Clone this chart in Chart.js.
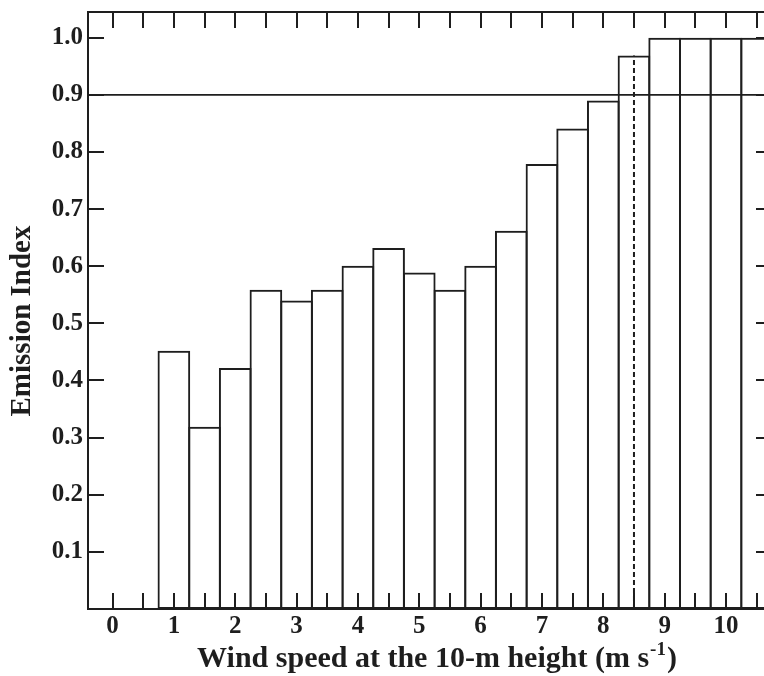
<!DOCTYPE html>
<html>
<head>
<meta charset="utf-8">
<script src="https://cdn.jsdelivr.net/npm/chart.js@4/dist/chart.umd.min.js"></script>
<style>
  html, body { margin: 0; padding: 0; background: #ffffff; }
  #wrap { width: 764px; height: 676px; overflow: hidden; position: relative; background: #ffffff; }
  canvas { display: block; }
</style>
</head>
<body>
<div id="wrap"><canvas id="c" width="780" height="676"></canvas></div>
<script>
// ---- data ----
const binCenters = [1, 1.5, 2, 2.5, 3, 3.5, 4, 4.5, 5, 5.5, 6, 6.5, 7, 7.5, 8, 8.5, 9, 9.5, 10, 10.5];
const emissionIndex = [0.452, 0.319, 0.422, 0.559, 0.540, 0.559, 0.601, 0.632, 0.589, 0.559,
                       0.601, 0.662, 0.779, 0.841, 0.890, 0.969, 1.0, 1.0, 1.0, 1.0];
const thresholdValue = 0.9;
const thresholdSpan = [-0.4, 10.75];
const cutoffSpeed = 8.5;
const cutoffTop = 0.969;
const xTickLabels = [0, 1, 2, 3, 4, 5, 6, 7, 8, 9, 10];
const xTickMarks = [0, 0.5, 1, 1.5, 2, 2.5, 3, 3.5, 4, 4.5, 5, 5.5, 6, 6.5, 7, 7.5, 8, 8.5, 9, 9.5, 10, 10.5];
const yTickLabels = [0.1, 0.2, 0.3, 0.4, 0.5, 0.6, 0.7, 0.8, 0.9, 1.0];
const xTitleMain = 'Wind speed at the 10-m height (m s';
const xTitleSup = '-1';
const xTitleEnd = ')';
const yTitle = 'Emission Index';

const INK = '#1e1e1e';
const SERIF = '"Liberation Serif", "Times New Roman", serif';

const framePlugin = {
  id: 'frameTicks',
  afterDraw(chart) {
    const { ctx, chartArea: a, scales } = chart;
    const xs = scales.x, ys = scales.y;
    ctx.save();
    ctx.strokeStyle = INK;
    ctx.lineWidth = 2;
    ctx.strokeRect(a.left, a.top, a.right - a.left, a.bottom - a.top);
    const tl = 16;
    ctx.beginPath();
    xTickMarks.forEach(v => {
      const px = Math.round(xs.getPixelForValue(v));
      ctx.moveTo(px, a.bottom); ctx.lineTo(px, a.bottom - tl);
      ctx.moveTo(px, a.top); ctx.lineTo(px, a.top + tl);
    });
    yTickLabels.forEach(v => {
      const py = Math.round(ys.getPixelForValue(v));
      ctx.moveTo(a.left, py); ctx.lineTo(a.left + tl, py);
      ctx.moveTo(a.right, py); ctx.lineTo(a.right - tl, py);
    });
    ctx.stroke();

    // x-axis title with superscript
    ctx.fillStyle = INK;
    ctx.textBaseline = 'alphabetic';
    const mainFont = 'bold 30px ' + SERIF;
    const supFont = 'bold 19px ' + SERIF;
    ctx.font = mainFont;
    const w1 = ctx.measureText(xTitleMain).width;
    const w3 = ctx.measureText(xTitleEnd).width;
    ctx.font = supFont;
    const w2 = ctx.measureText(xTitleSup).width;
    const total = w1 + w2 + w3 + 2;
    const cx = 437, by = 667;
    let x0 = cx - total / 2;
    ctx.textAlign = 'left';
    ctx.font = mainFont;
    ctx.fillText(xTitleMain, x0, by);
    ctx.font = supFont;
    ctx.fillText(xTitleSup, x0 + w1 + 1, by - 12);
    ctx.font = mainFont;
    ctx.fillText(xTitleEnd, x0 + w1 + w2 + 2, by);

    // y-axis title
    ctx.save();
    ctx.translate(23, 321);
    ctx.rotate(-Math.PI / 2);
    ctx.font = 'bold 29px ' + SERIF;
    ctx.textAlign = 'center';
    ctx.textBaseline = 'middle';
    ctx.fillText(yTitle, 0, 0);
    ctx.restore();
    ctx.restore();
  }
};

new Chart(document.getElementById('c'), {
  type: 'bar',
  data: {
    datasets: [
      {
        type: 'line',
        label: 'threshold',
        data: thresholdSpan.map(x => ({ x: x, y: thresholdValue })),
        borderColor: INK,
        borderWidth: 1.8,
        pointRadius: 0,
        tension: 0,
        order: 0
      },
      {
        type: 'line',
        label: 'cutoff',
        data: [{ x: cutoffSpeed, y: 0 }, { x: cutoffSpeed, y: cutoffTop }],
        borderColor: INK,
        borderWidth: 2,
        borderDash: [5, 3],
        pointRadius: 0,
        tension: 0,
        order: 0
      },
      {
        type: 'bar',
        label: 'Emission Index',
        data: binCenters.map((x, i) => ({ x: x, y: emissionIndex[i] })),
        backgroundColor: 'rgba(255,255,255,0)',
        borderColor: INK,
        borderWidth: 2,
        borderSkipped: false,
        barPercentage: 1.065,
        categoryPercentage: 1,
        grouped: false,
        order: 1
      }
    ]
  },
  options: {
    responsive: false,
    devicePixelRatio: 1,
    animation: false,
    layout: { padding: { top: 12, right: 8, left: 0, bottom: 0 } },
    plugins: { legend: { display: false }, tooltip: { enabled: false } },
    scales: {
      x: {
        type: 'linear',
        min: thresholdSpan[0],
        max: thresholdSpan[1],
        offset: false,
        grid: { display: false, drawTicks: false },
        border: { display: false },
        afterBuildTicks: s => { s.ticks = xTickLabels.map(v => ({ value: v })); },
        afterFit: s => { s.height = 67; s.paddingLeft = 0; s.paddingRight = 0; },
        ticks: {
          autoSkip: false,
          maxRotation: 0,
          padding: 3,
          color: INK,
          font: { family: SERIF, size: 25, weight: 'bold' },
          callback: v => String(v)
        }
      },
      y: {
        type: 'linear',
        min: 0,
        max: 1.045,
        grid: { display: false, drawTicks: false },
        border: { display: false },
        afterBuildTicks: s => { s.ticks = yTickLabels.map(v => ({ value: v })); },
        afterFit: s => { s.width = 88; s.paddingTop = 0; s.paddingBottom = 0; },
        ticks: {
          padding: 5,
          color: INK,
          font: { family: SERIF, size: 25, weight: 'bold' },
          callback: v => Number(v).toFixed(1)
        }
      }
    }
  },
  plugins: [framePlugin]
});
</script>
</body>
</html>
